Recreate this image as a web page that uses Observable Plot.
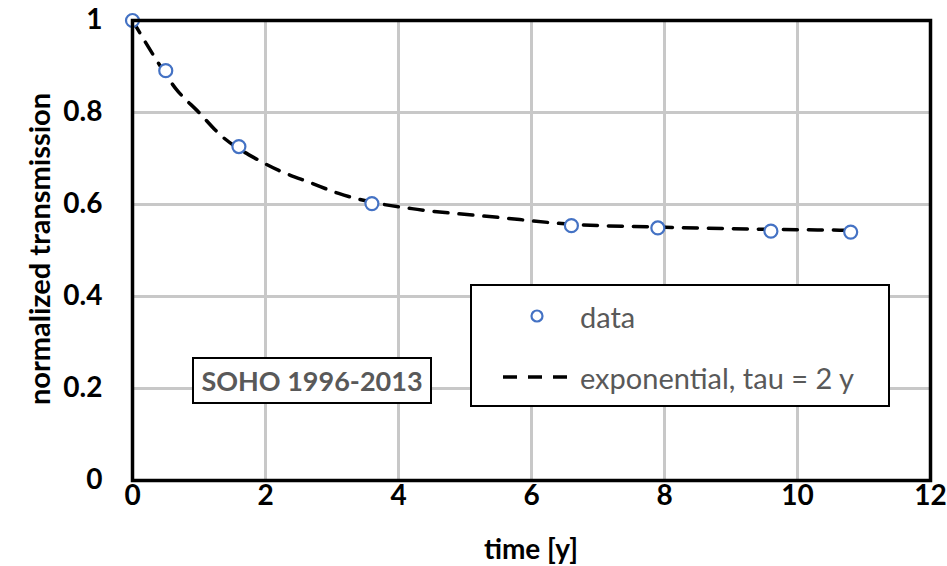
<!DOCTYPE html>
<html>
<head>
<meta charset="utf-8">
<script src="https://cdn.jsdelivr.net/npm/d3@7"></script>
<script src="https://cdn.jsdelivr.net/npm/@observablehq/plot@0.6"></script>
<style>
  html, body { margin: 0; padding: 0; background: #fff; }
  #wrap { position: relative; width: 947px; height: 566px; font-family: Lato, "Open Sans", sans-serif; }
  .box { position: absolute; background: #fff; border: 2px solid #000; box-sizing: border-box; color: #595959; }
  #legend { left: 470px; top: 284px; width: 420px; height: 123px; font-size: 29px; }
  #legend .lbl { position: absolute; left: 108px; white-space: nowrap; line-height: 1; }
  #soho { left: 192px; top: 357px; width: 240px; height: 47px; font-size: 27px; font-weight: bold;
          display: flex; align-items: center; justify-content: center; white-space: nowrap; }
  .ytitle { position: absolute; left: 38px; top: 249px; transform: translate(-50%, -50%) rotate(-90deg);
            font-size: 29px; font-weight: bold; white-space: nowrap; color: #000; }
  .xtitle { position: absolute; left: 531px; top: 548px; transform: translate(-50%, -50%);
            font-size: 28px; font-weight: bold; white-space: nowrap; color: #000; }
</style>
</head>
<body>
<div id="wrap"></div>
<script>
// Data
const timeY = [0, 0.5, 1.6, 3.6, 6.6, 7.9, 9.6, 10.8];
const transmission = [1.0, 0.891, 0.726, 0.602, 0.554, 0.549, 0.542, 0.540];
const fitTime = [0, 0.3, 0.65, 1.0, 1.3, 1.9, 2.2, 2.7, 3.1, 3.6, 4.2, 5.5, 6.6, 7.9, 9.6, 10.8];
const fitValue = [1.0, 0.928, 0.852, 0.80, 0.754, 0.696, 0.674, 0.646, 0.624, 0.605, 0.591, 0.572, 0.557, 0.551, 0.546, 0.544];
const xTicks = [0, 2, 4, 6, 8, 10, 12];
const yTicks = [0, 0.2, 0.4, 0.6, 0.8, 1];
const xLabel = "time [y]";
const yLabel = "normalized transmission";
const seriesNames = ["data", "exponential, tau = 2 y"];
const annotation = "SOHO 1996-2013";

const points = timeY.map((t, i) => ({t, v: transmission[i]}));
const fit = fitTime.map((t, i) => ({t, v: fitValue[i]}));

const chart = Plot.plot({
  width: 947,
  height: 566,
  marginLeft: 132,
  marginRight: 17,
  marginTop: 20,
  marginBottom: 86,
  style: {fontFamily: "Lato, 'Open Sans', sans-serif", background: "#fff", color: "#000"},
  x: {domain: [0, 12], ticks: xTicks},
  y: {domain: [0, 1], ticks: yTicks},
  marks: [
    Plot.gridX(xTicks, {stroke: "#c8c8c8", strokeOpacity: 1, strokeWidth: 3}),
    Plot.gridY(yTicks, {stroke: "#c8c8c8", strokeOpacity: 1, strokeWidth: 3}),
    Plot.axisX(xTicks, {tickSize: 0, tickPadding: 5, fontSize: 28, fontWeight: "bold", label: null, tickFormat: d3.format("")}),
    Plot.axisY(yTicks, {tickSize: 0, tickPadding: 30, fontSize: 28, fontWeight: "bold", label: null, tickFormat: d3.format("")}),
    Plot.line(fit, {x: "t", y: "v", stroke: "#000", strokeWidth: 3.5, strokeDasharray: "14,11", curve: "monotone-x"}),
    Plot.dot(points, {x: "t", y: "v", r: 6.5, stroke: "#4472C4", strokeWidth: 2.2, fill: "#fff"}),
    Plot.frame({stroke: "#000", strokeWidth: 3.5})
  ]
});

const wrap = document.getElementById("wrap");
wrap.appendChild(chart);

const yt = document.createElement("div"); yt.className = "ytitle"; yt.textContent = yLabel; wrap.appendChild(yt);
const xt = document.createElement("div"); xt.className = "xtitle"; xt.textContent = xLabel; wrap.appendChild(xt);

const soho = document.createElement("div"); soho.className = "box"; soho.id = "soho"; soho.textContent = annotation; wrap.appendChild(soho);

const legend = document.createElement("div"); legend.className = "box"; legend.id = "legend";
legend.innerHTML = `
  <svg width="420" height="123" style="position:absolute;left:-2px;top:-2px">
    <circle cx="67" cy="32" r="5.5" fill="#fff" stroke="#4472C4" stroke-width="2.2"></circle>
    <line x1="33" x2="100" y1="93" y2="93" stroke="#000" stroke-width="3.5" stroke-dasharray="14,11"></line>
  </svg>
  <div class="lbl" style="top:16px">${seriesNames[0]}</div>
  <div class="lbl" style="top:77px">${seriesNames[1]}</div>`;
wrap.appendChild(legend);
</script>
</body>
</html>
